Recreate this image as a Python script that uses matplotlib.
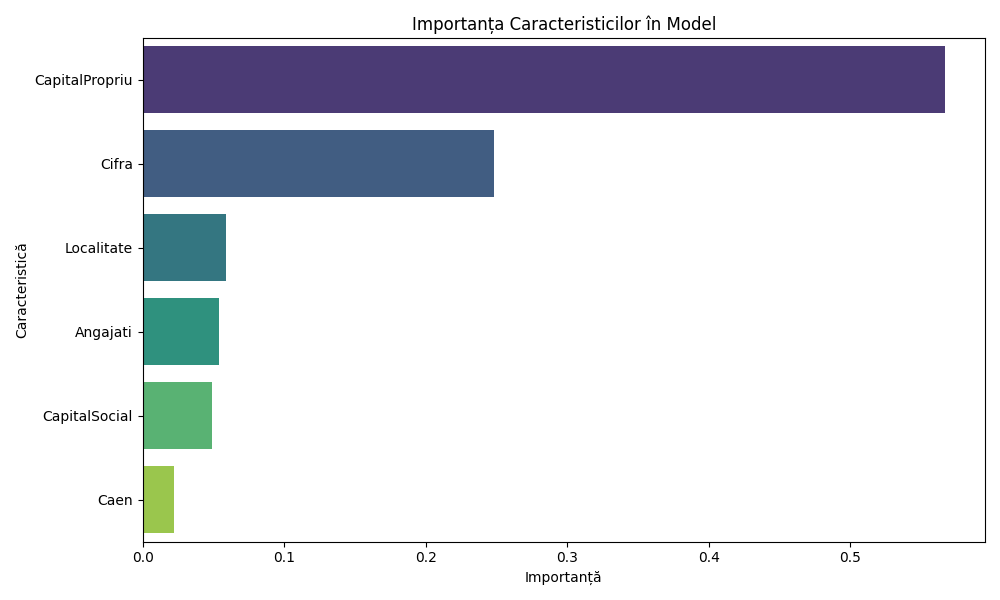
import matplotlib
matplotlib.use("Agg")
from matplotlib import pyplot as plt
import seaborn as sns
import pandas as pd

features = ['CapitalPropriu', 'Cifra', 'Localitate', 'Angajati', 'CapitalSocial', 'Caen']
importance = [0.567, 0.248, 0.0587, 0.0537, 0.0488, 0.0219]

df = pd.DataFrame({'Caracteristică': features, 'Importanță': importance})

fig, ax = plt.subplots(figsize=(10, 6))
sns.barplot(data=df, x='Importanță', y='Caracteristică', hue='Caracteristică',
            palette='viridis', legend=False, ax=ax)
ax.set_title('Importanța Caracteristicilor în Model')
plt.tight_layout()
fig.savefig('out.png', dpi=100)
